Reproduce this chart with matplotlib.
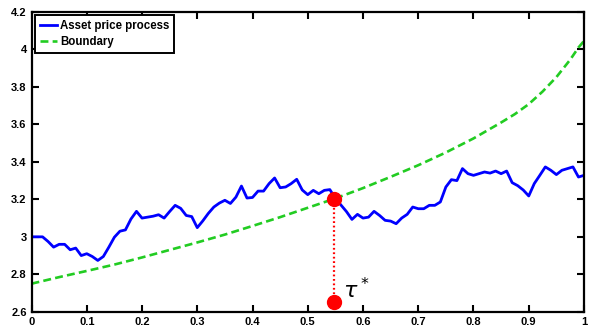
import numpy as np
import matplotlib.pyplot as plt
from matplotlib.ticker import FuncFormatter

# simulated asset path, sampled every 0.01
t = np.linspace(0, 1, 101)
price = [3.000, 3.000, 3.000, 2.975, 2.945, 2.960, 2.960, 2.931, 2.940, 2.900,
         2.910, 2.895, 2.874, 2.895, 2.945, 2.998, 3.030, 3.037, 3.095, 3.136,
         3.100, 3.105, 3.110, 3.118, 3.100, 3.135, 3.168, 3.152, 3.114, 3.108,
         3.049, 3.085, 3.125, 3.159, 3.180, 3.195, 3.178, 3.212, 3.271, 3.207,
         3.210, 3.244, 3.244, 3.284, 3.314, 3.262, 3.266, 3.284, 3.307, 3.250,
         3.225, 3.248, 3.230, 3.248, 3.252, 3.205, 3.170, 3.135, 3.093, 3.120,
         3.100, 3.105, 3.136, 3.114, 3.088, 3.084, 3.070, 3.100, 3.120, 3.159,
         3.150, 3.150, 3.168, 3.168, 3.186, 3.266, 3.305, 3.300, 3.364, 3.337,
         3.328, 3.337, 3.346, 3.340, 3.351, 3.337, 3.351, 3.289, 3.273, 3.250,
         3.218, 3.284, 3.328, 3.373, 3.355, 3.332, 3.355, 3.364, 3.373, 3.319,
         3.328]

# exercise boundary
tb = [0.00, 0.05, 0.10, 0.15, 0.20, 0.25, 0.30, 0.35, 0.40, 0.45, 0.50, 0.55,
      0.60, 0.65, 0.70, 0.75, 0.80, 0.85, 0.875, 0.90, 0.925, 0.95,
      0.975, 0.99, 1.00]
boundary = [2.750, 2.785, 2.818, 2.852, 2.890, 2.930, 2.970, 3.012, 3.058,
            3.105, 3.155, 3.205, 3.260, 3.320, 3.382, 3.450, 3.525, 3.610,
            3.655, 3.708, 3.775, 3.852, 3.945, 4.010, 4.045]

# stopping time and hitting level
tau = 0.548
hit_level = 3.2
base_level = 2.65

plt.rcParams['font.family'] = ['Liberation Sans', 'DejaVu Sans']

fig = plt.figure(figsize=(5.89, 3.31), dpi=100)
ax = fig.add_axes([0.0535, 0.058, 0.938, 0.906])

ax.plot(t, price, color='#0000ff', lw=2.0, label='Asset price process')
ax.plot(tb, boundary, color='#22cc22', lw=1.9, ls=(0, (3, 1.6)), label='Boundary')
ax.plot([tau, tau], [hit_level, base_level], color='red', lw=1.6, ls=(0, (0.8, 1.2)))
ax.plot([tau, tau], [hit_level, base_level], 'o', color='red', ms=10, mec='red')
ax.text(tau + 0.015, base_level + 0.02, r'$\tau^*$', fontsize=16, family='DejaVu Serif')

ax.set_xlim(0, 1)
ax.set_ylim(2.6, 4.2)
ax.set_xticks(np.arange(0, 1.01, 0.1))
ax.set_yticks(np.arange(2.6, 4.21, 0.2))
ax.xaxis.set_major_formatter(FuncFormatter(lambda v, p: '%g' % round(v, 2)))
ax.yaxis.set_major_formatter(FuncFormatter(lambda v, p: '%g' % round(v, 2)))
ax.tick_params(direction='in', top=True, right=True, length=5, width=1.5,
               labelsize=8)
for lbl in ax.get_xticklabels() + ax.get_yticklabels():
    lbl.set_fontweight('bold')
for s in ax.spines.values():
    s.set_linewidth(1.6)

leg = ax.legend(loc='upper left', prop={'weight': 'bold', 'size': 8.3},
                handlelength=1.5, handletextpad=0.25, borderpad=0.4,
                labelspacing=0.35, borderaxespad=0.3, fancybox=False, framealpha=1)
leg.get_frame().set_edgecolor('black')
leg.get_frame().set_linewidth(1.4)

fig.savefig('out.png', dpi=100)
